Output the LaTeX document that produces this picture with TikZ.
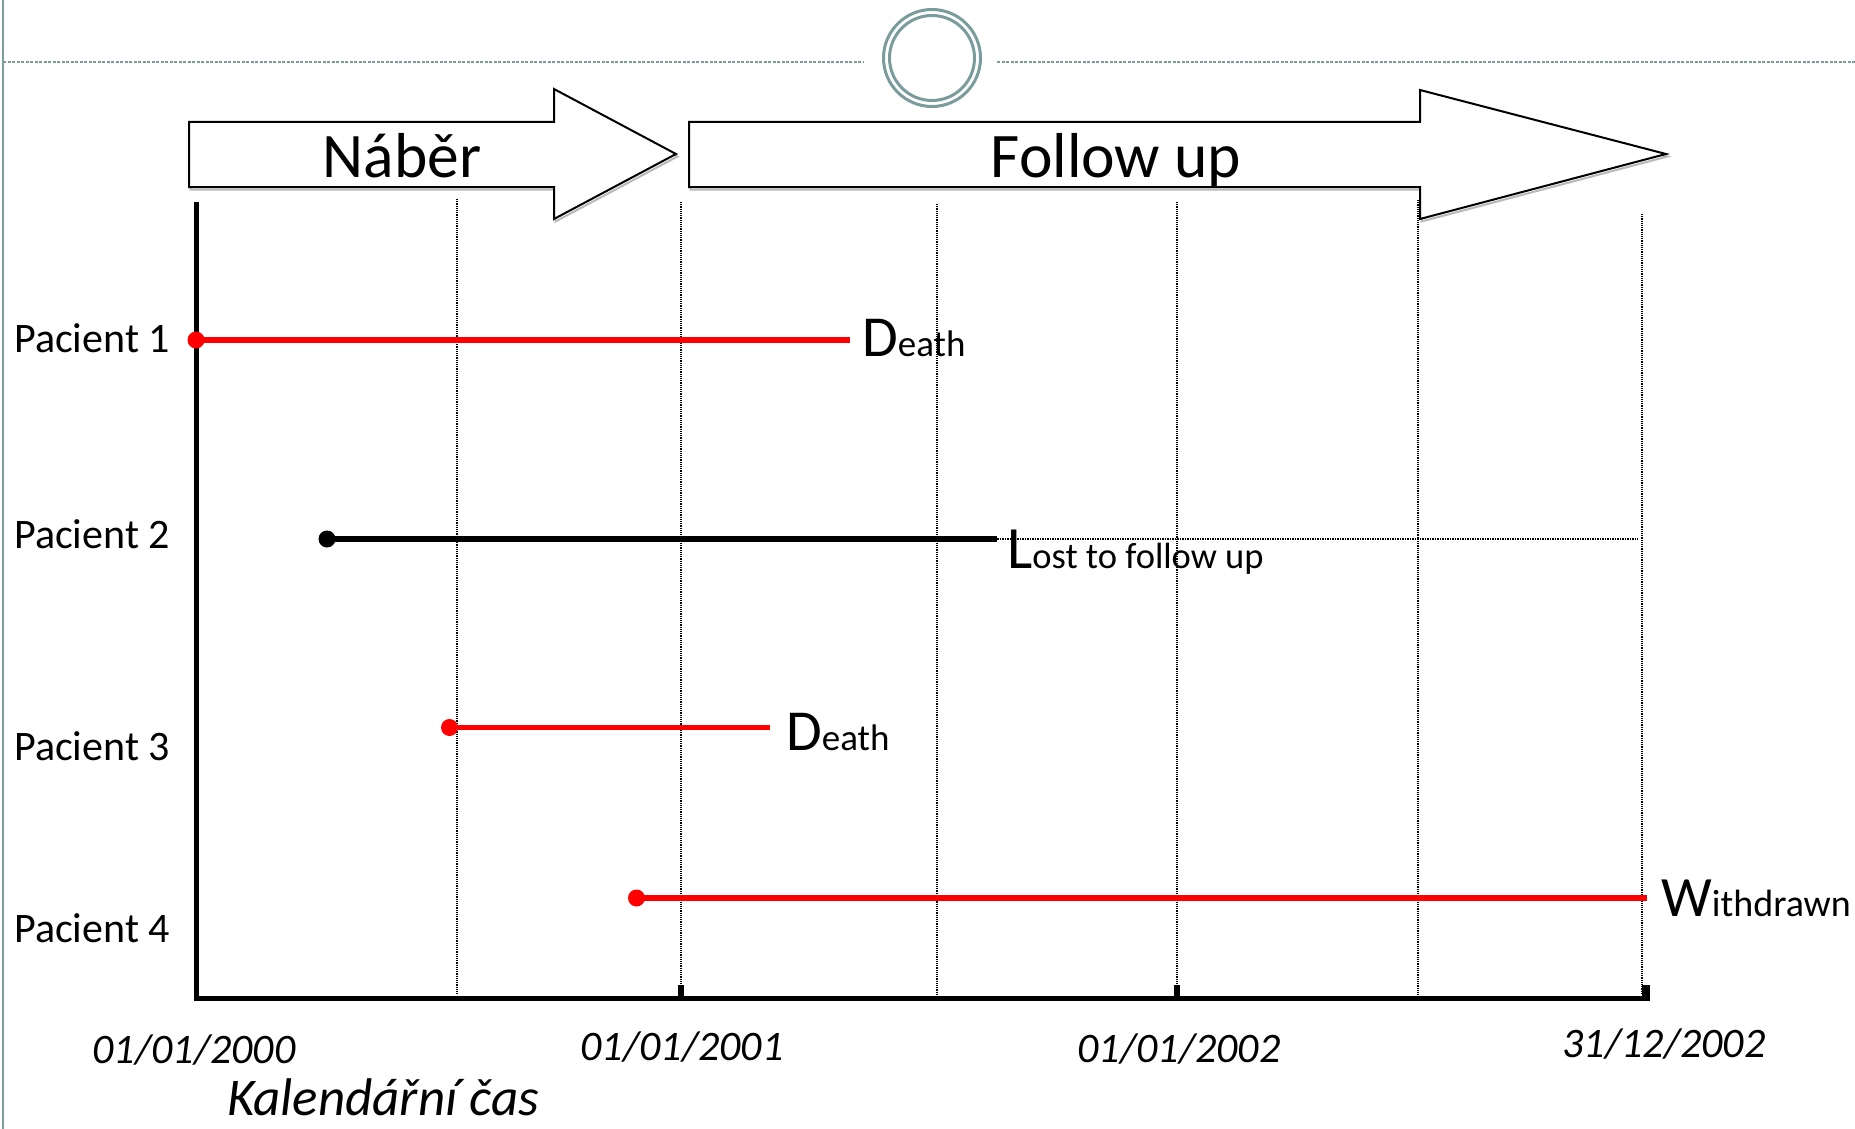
\documentclass[tikz,border=0pt]{standalone}
\usepackage{fontspec}
\setmainfont{Carlito}
\definecolor{decoteal}{HTML}{7A9C9C}
\begin{document}
\begin{tikzpicture}[x=1pt,y=-1pt,
  lab/.style={font=\fontsize{42}{48}\selectfont, anchor=base west, inner sep=0pt},
  datel/.style={font=\itshape\fontsize{42}{49}\selectfont, anchor=base, inner sep=0pt},
  big/.style={font=\fontsize{63.5}{70}\selectfont, anchor=base, inner sep=0pt},
  evt/.style={anchor=base west, inner sep=0pt},
  gridl/.style={densely dotted, line width=1.2pt},
  redl/.style={red, line width=5.5pt},
  blackl/.style={black, line width=5.5pt},
  dotn/.style={circle, fill=#1, inner sep=0pt, minimum size=17pt},
  arrowbox/.style={fill=white, draw=black, line width=2pt, line join=miter},
  shadowl/.style={draw=gray!55, line width=2pt, line join=miter},
  deco/.style={decoteal, line width=1.5pt}]
\useasboundingbox (0,0) rectangle (1855,1129);

% decoration
\draw[deco] (3,0) -- (3,1129);
\draw[deco, dash pattern=on 3pt off 1.5pt] (3,62) -- (864,62);
\draw[deco, dash pattern=on 3pt off 1.5pt] (997,62) -- (1855,62);
\draw[decoteal, line width=3pt] (932,58) circle[radius=48.5pt];
\draw[decoteal, line width=3pt] (932,58) circle[radius=42.5pt];

% grid lines
\draw[gridl] (457,199) -- (457,995);
\draw[gridl] (681,202) -- (681,995);
\draw[gridl] (937,204) -- (937,995);
\draw[gridl] (1177,202) -- (1177,995);
\draw[gridl] (1418,200) -- (1418,995);
\draw[gridl] (1642,214) -- (1642,995);

% phase arrows
\begin{scope}[shift={(1.5,2.5)}]
\draw[shadowl] (189,122) -- (554,122) -- (554,89) -- (676,154) -- (554,219) -- (554,187) -- (189,187) -- cycle;
\draw[shadowl] (689,122) -- (1420,122) -- (1420,90) -- (1666,154) -- (1420,219) -- (1420,187) -- (689,187) -- cycle;
\end{scope}
\draw[arrowbox] (189,122) -- (554,122) -- (554,89) -- (676,154) -- (554,219) -- (554,187) -- (189,187) -- cycle;
\draw[arrowbox] (689,122) -- (1420,122) -- (1420,90) -- (1666,154) -- (1420,219) -- (1420,187) -- (689,187) -- cycle;
\node[big] (naber) at (402,177) {Náběr};
\node[big] (follow) at (1116,177) {Follow up};

% axes
\draw[line width=5pt, line join=miter] (196.5,202) -- (196.5,998) -- (1650,998);
\fill (678,985) rectangle (684,998);
\fill (1174,985) rectangle (1180,998);
\fill (1642,985) rectangle (1650,1000.5);

% patients
\node[lab] (p1) at (14,352) {Pacient 1};
\node[lab] (p2) at (14,548) {Pacient 2};
\node[lab] (p3) at (14,760) {Pacient 3};
\node[lab] (p4) at (14,942) {Pacient 4};

% patient 1
\node[dotn=red] (s1) at (196,340) {};
\coordinate (e1) at (850,340);
\draw[redl] (s1.center) -- (e1);
\node[evt] (d1) at (862,356) {\fontsize{58}{60}\selectfont D\fontsize{37}{40}\selectfont eath};

% patient 2
\node[dotn=black] (s2) at (327,539) {};
\coordinate (e2) at (997,539);
\coordinate (e2b) at (1638,539);
\draw[blackl] (s2.center) -- (e2);
\draw[densely dotted, line width=1.5pt] (e2) -- (e2b);
\node[evt] (l2) at (1007,568) {\fontsize{60}{62}\selectfont L\fontsize{36.5}{40}\selectfont ost to follow up};

% patient 3
\node[dotn=red] (s3) at (449.5,727.5) {};
\coordinate (e3) at (770,727.5);
\draw[redl] (s3.center) -- (e3);
\node[evt] (d3) at (786,750) {\fontsize{58}{60}\selectfont D\fontsize{37}{40}\selectfont eath};

% patient 4
\node[dotn=red] (s4) at (636.5,898) {};
\coordinate (e4) at (1647,898);
\draw[redl] (s4.center) -- (e4);
\node[evt] (w4) at (1661,916) {\fontsize{57}{60}\selectfont W\fontsize{38}{40}\selectfont ithdrawn};

% dates
\node[datel] (t0) at (194,1063) {01/01/2000};
\node[datel] (t1) at (682,1060) {01/01/2001};
\node[datel] (t2) at (1179,1062) {01/01/2002};
\node[datel] (t3) at (1664,1057) {31/12/2002};
\node[font=\itshape\fontsize{53}{56}\selectfont, anchor=base, inner sep=0pt] (kal) at (383,1115) {Kalendářní čas};
\end{tikzpicture}
\end{document}
